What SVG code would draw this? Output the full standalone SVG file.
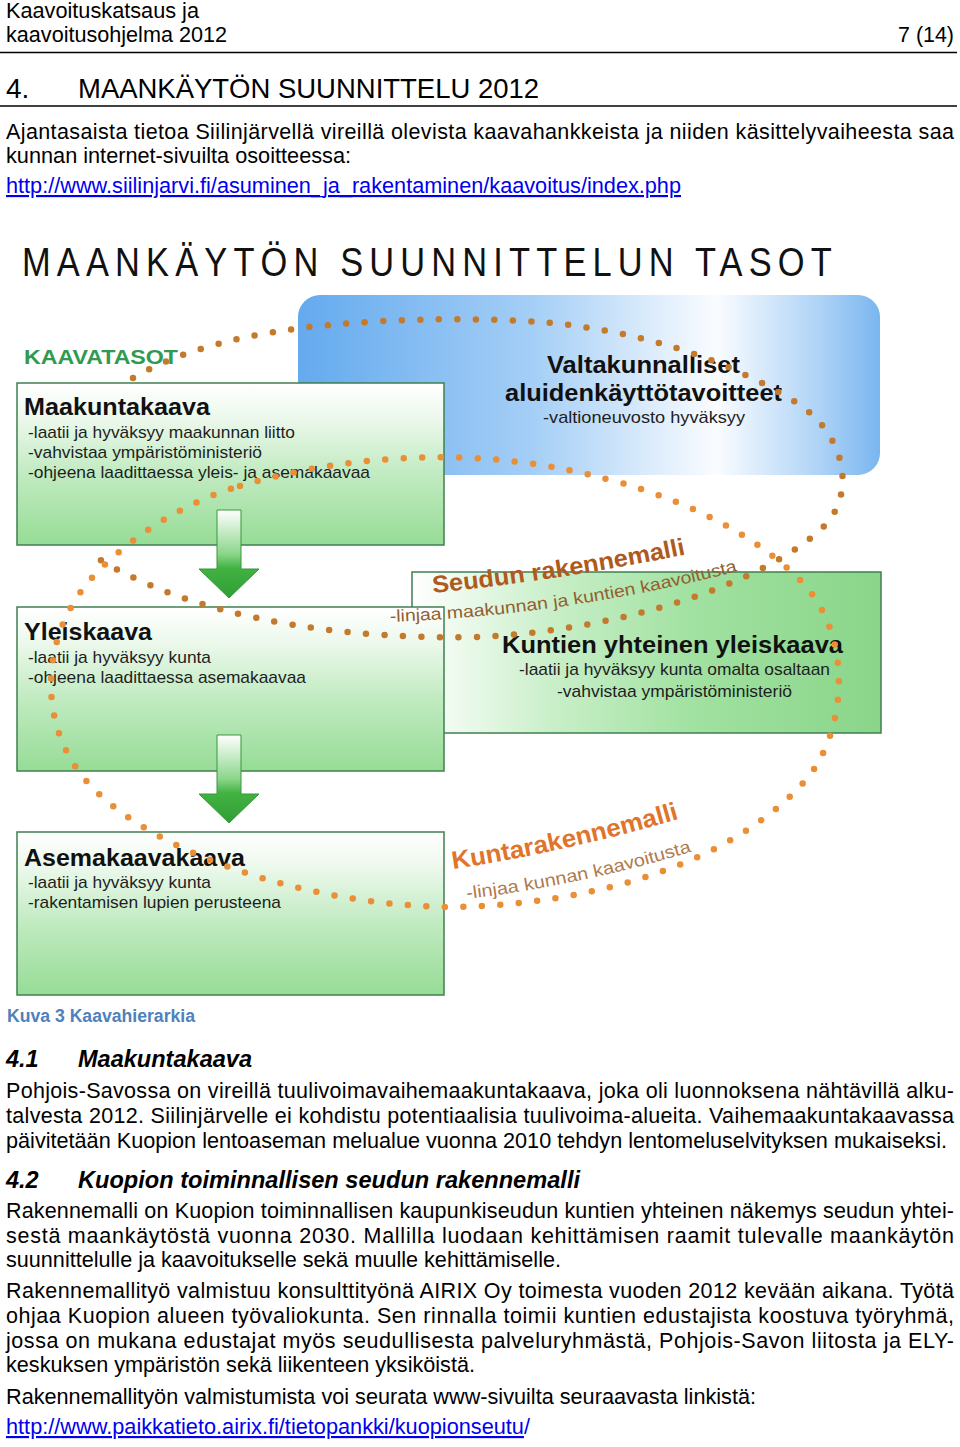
<svg xmlns="http://www.w3.org/2000/svg" width="960" height="1447" viewBox="0 0 960 1447">
<defs>
<style>
text{font-family:"Liberation Sans",Arial,Helvetica,sans-serif}
.b{font-size:21.5px;fill:#000}
.h{font-size:23.5px;font-weight:bold;font-style:italic;fill:#000}
.lnk{font-size:21.5px;fill:#0000ee}
.bt{font-weight:bold;fill:#111}
.st{font-size:17px;fill:#1e1e1e}
.box{stroke:#3f7f4f;stroke-width:1.5}
.rule{stroke:#000;stroke-width:1.5}
.dots1{fill:none;stroke:#c47a2c;stroke-width:6.5;stroke-linecap:round;stroke-dasharray:0 18.5}
.dots2{fill:none;stroke:#ea8f36;stroke-width:6.5;stroke-linecap:round;stroke-dasharray:0 18.5}
.arrow{fill:url(#gArrow);stroke:#3a963e;stroke-width:1}
</style>
<linearGradient id="gGreenV" x1="0" y1="0" x2="0" y2="1">
<stop offset="0" stop-color="#ffffff"/>
<stop offset="0.2" stop-color="#eef9ee"/>
<stop offset="0.55" stop-color="#c2ebc2"/>
<stop offset="1" stop-color="#96dc96"/>
</linearGradient>
<linearGradient id="gGreenH" x1="0" y1="0" x2="1" y2="0">
<stop offset="0" stop-color="#ffffff"/>
<stop offset="0.3" stop-color="#c9efc9"/>
<stop offset="0.6" stop-color="#a1e1a1"/>
<stop offset="1" stop-color="#8ad58a"/>
</linearGradient>
<linearGradient id="gBlue" x1="0" y1="0" x2="1" y2="0">
<stop offset="0" stop-color="#64aaee"/>
<stop offset="0.4" stop-color="#a4cef6"/>
<stop offset="0.72" stop-color="#fafcff"/>
<stop offset="0.9" stop-color="#acd2f6"/>
<stop offset="1" stop-color="#7ab6ef"/>
</linearGradient>
<linearGradient id="gArrow" x1="0" y1="0" x2="0" y2="1">
<stop offset="0" stop-color="#ffffff"/>
<stop offset="0.5" stop-color="#8ad68a"/>
<stop offset="0.66" stop-color="#42b242"/>
<stop offset="1" stop-color="#2f9f35"/>
</linearGradient>
<path id="pSeudun" d="M433,593 Q562,580 692,553"/>
<path id="pSeudunSub" d="M390,622 Q570,615 742,570"/>
<path id="pKunta" d="M453,869 Q566,852 682,818"/>
<path id="pKuntaSub" d="M467,899 Q582,885 694,851"/>
</defs>

<rect width="960" height="1447" fill="#ffffff"/>

<g id="page-header">
<text class="b" x="6" y="18" textLength="193" lengthAdjust="spacingAndGlyphs">Kaavoituskatsaus ja</text>
<text class="b" x="6" y="42" textLength="221" lengthAdjust="spacingAndGlyphs">kaavoitusohjelma 2012</text>
<text class="b" x="898" y="42" textLength="56" lengthAdjust="spacingAndGlyphs">7 (14)</text>
<line class="rule" x1="0" y1="52.5" x2="957" y2="52.5"/>
</g>

<g id="chapter-heading">
<text x="6" y="98" font-size="28" fill="#000">4.</text>
<text x="78" y="98" font-size="28" fill="#000" textLength="461" lengthAdjust="spacingAndGlyphs">MAANKÄYTÖN SUUNNITTELU 2012</text>
<line class="rule" x1="0" y1="106" x2="957" y2="106"/>
</g>

<g id="intro">
<text class="b" x="6" y="139" textLength="948" lengthAdjust="spacing">Ajantasaista tietoa Siilinjärvellä vireillä olevista kaavahankkeista ja niiden käsittelyvaiheesta saa</text>
<text class="b" x="6" y="163" textLength="345" lengthAdjust="spacingAndGlyphs">kunnan internet-sivuilta osoitteessa:</text>
<text class="lnk" x="6" y="193" textLength="675" lengthAdjust="spacingAndGlyphs" text-decoration="underline">http://www.siilinjarvi.fi/asuminen_ja_rakentaminen/kaavoitus/index.php</text>
</g>

<g id="diagram-title">
<text transform="scale(0.84,1)" x="26.19" y="276" font-size="41" fill="#111" textLength="964" lengthAdjust="spacing">MAANKÄYTÖN SUUNNITTELUN TASOT</text>
</g>

<g id="node-valtakunnalliset">
<rect x="298" y="295" width="582" height="180" rx="22" ry="22" fill="url(#gBlue)"/>
<text class="bt" x="547" y="373" font-size="23" textLength="193" lengthAdjust="spacingAndGlyphs">Valtakunnalliset</text>
<text class="bt" x="505" y="401" font-size="23" textLength="277" lengthAdjust="spacingAndGlyphs">aluidenkäyttötavoitteet</text>
<text class="st" x="543" y="423" textLength="202" lengthAdjust="spacingAndGlyphs">-valtioneuvosto hyväksyy</text>
</g>

<g id="node-kuntien-yleiskaava">
<rect class="box" x="412" y="572" width="469" height="161" fill="url(#gGreenH)"/>
<text class="bt" x="502" y="653" font-size="23" textLength="341" lengthAdjust="spacingAndGlyphs">Kuntien yhteinen yleiskaava</text>
<text class="st" x="519" y="675" textLength="311" lengthAdjust="spacingAndGlyphs">-laatii ja hyväksyy kunta omalta osaltaan</text>
<text class="st" x="557" y="697" textLength="235" lengthAdjust="spacingAndGlyphs">-vahvistaa ympäristöministeriö</text>
</g>

<g id="label-kaavatasot">
<text x="24" y="364" font-size="20" font-weight="bold" fill="#2f9a50" textLength="154" lengthAdjust="spacingAndGlyphs">KAAVATASOT</text>
</g>

<g id="node-maakuntakaava">
<rect class="box" x="17" y="383" width="427" height="162" fill="url(#gGreenV)"/>
<text class="bt" x="24" y="415" font-size="24" textLength="186" lengthAdjust="spacingAndGlyphs">Maakuntakaava</text>
<text class="st" x="28" y="438" textLength="267" lengthAdjust="spacingAndGlyphs">-laatii ja hyväksyy maakunnan liitto</text>
<text class="st" x="28" y="458" textLength="234" lengthAdjust="spacingAndGlyphs">-vahvistaa ympäristöministeriö</text>
<text class="st" x="28" y="478" textLength="342" lengthAdjust="spacingAndGlyphs">-ohjeena laadittaessa yleis- ja asemakaavaa</text>
</g>

<g id="node-yleiskaava">
<rect class="box" x="17" y="607" width="427" height="164" fill="url(#gGreenV)"/>
<text class="bt" x="24" y="640" font-size="24" textLength="128" lengthAdjust="spacingAndGlyphs">Yleiskaava</text>
<text class="st" x="28" y="663" textLength="183" lengthAdjust="spacingAndGlyphs">-laatii ja hyväksyy kunta</text>
<text class="st" x="28" y="683" textLength="278" lengthAdjust="spacingAndGlyphs">-ohjeena laadittaessa asemakaavaa</text>
</g>

<g id="node-asemakaava">
<rect class="box" x="17" y="832" width="427" height="163" fill="url(#gGreenV)"/>
<text class="bt" x="24" y="866" font-size="24" textLength="221" lengthAdjust="spacingAndGlyphs">Asemakaavakaava</text>
<text class="st" x="28" y="888" textLength="183" lengthAdjust="spacingAndGlyphs">-laatii ja hyväksyy kunta</text>
<text class="st" x="28" y="908" textLength="253" lengthAdjust="spacingAndGlyphs">-rakentamisen lupien perusteena</text>
</g>

<g id="label-seudun-rakennemalli">
<text font-size="24" font-weight="bold" fill="#b0591d"><textPath href="#pSeudun" textLength="256" lengthAdjust="spacingAndGlyphs">Seudun rakennemalli</textPath></text>
<text font-size="17" fill="#93602f"><textPath href="#pSeudunSub" textLength="352" lengthAdjust="spacingAndGlyphs">-linjaa maakunnan ja kuntien kaavoitusta</textPath></text>
</g>

<g id="label-kuntarakennemalli">
<text font-size="25" font-weight="bold" fill="#e0742a"><textPath href="#pKunta" textLength="232" lengthAdjust="spacingAndGlyphs">Kuntarakennemalli</textPath></text>
<text font-size="17.5" fill="#b07a4c"><textPath href="#pKuntaSub" textLength="230" lengthAdjust="spacingAndGlyphs">-linjaa kunnan kaavoitusta</textPath></text>
</g>

<g id="connectors">
<path class="arrow" d="M217,510 H241 V569 H259 L229,598 L199,569 H217 Z"/>
<path class="arrow" d="M217,735 H241 V794 H259 L229,823 L199,794 H217 Z"/>
<path class="dots1" d="M133,378 C180,350 250,332 330,325 C400,318 480,318 540,322 C640,330 730,360 800,405 C850,440 855,500 820,530 C760,585 620,630 480,637 C350,640 230,620 150,585 C115,570 95,558 87,549"/>
<path class="dots2" d="M240,486 C320,462 420,450 520,462 C640,478 740,520 800,580 C850,630 850,720 810,775 C740,860 600,905 450,907 C300,905 150,850 90,785 C38,730 38,640 90,580 C130,535 190,500 240,486 Z"/>
</g>

<g id="caption">
<text x="7" y="1022" font-size="17.5" font-weight="bold" fill="#4f81bd" textLength="188" lengthAdjust="spacingAndGlyphs">Kuva 3 Kaavahierarkia</text>
</g>

<g id="section-4-1">
<text class="h" x="6" y="1067">4.1</text>
<text class="h" x="78" y="1067" textLength="174" lengthAdjust="spacingAndGlyphs">Maakuntakaava</text>
<text class="b" x="6" y="1098" textLength="948" lengthAdjust="spacing">Pohjois-Savossa on vireillä tuulivoimavaihemaakuntakaava, joka oli luonnoksena nähtävillä alku-</text>
<text class="b" x="6" y="1123" textLength="948" lengthAdjust="spacing">talvesta 2012. Siilinjärvelle ei kohdistu potentiaalisia tuulivoima-alueita. Vaihemaakuntakaavassa</text>
<text class="b" x="6" y="1148" textLength="941" lengthAdjust="spacingAndGlyphs">päivitetään Kuopion lentoaseman melualue vuonna 2010 tehdyn lentomeluselvityksen mukaiseksi.</text>
</g>

<g id="section-4-2">
<text class="h" x="6" y="1188">4.2</text>
<text class="h" x="78" y="1188" textLength="502" lengthAdjust="spacingAndGlyphs">Kuopion toiminnallisen seudun rakennemalli</text>
<text class="b" x="6" y="1218" textLength="948" lengthAdjust="spacing">Rakennemalli on Kuopion toiminnallisen kaupunkiseudun kuntien yhteinen näkemys seudun yhtei-</text>
<text class="b" x="6" y="1243" textLength="948" lengthAdjust="spacing">sestä maankäytöstä vuonna 2030. Mallilla luodaan kehittämisen raamit tulevalle maankäytön</text>
<text class="b" x="6" y="1267" textLength="555" lengthAdjust="spacingAndGlyphs">suunnittelulle ja kaavoitukselle sekä muulle kehittämiselle.</text>
<text class="b" x="6" y="1298" textLength="948" lengthAdjust="spacing">Rakennemallityö valmistuu konsulttityönä AIRIX Oy toimesta vuoden 2012 kevään aikana. Työtä</text>
<text class="b" x="6" y="1323" textLength="948" lengthAdjust="spacing">ohjaa Kuopion alueen työvaliokunta. Sen rinnalla toimii kuntien edustajista koostuva työryhmä,</text>
<text class="b" x="6" y="1348" textLength="948" lengthAdjust="spacing">jossa on mukana edustajat myös seudullisesta palveluryhmästä, Pohjois-Savon liitosta ja ELY-</text>
<text class="b" x="6" y="1372" textLength="469" lengthAdjust="spacingAndGlyphs">keskuksen ympäristön sekä liikenteen yksiköistä.</text>
<text class="b" x="6" y="1404" textLength="750" lengthAdjust="spacingAndGlyphs">Rakennemallityön valmistumista voi seurata www-sivuilta seuraavasta linkistä:</text>
<text class="lnk" x="6" y="1434" textLength="524" lengthAdjust="spacingAndGlyphs"><tspan text-decoration="underline">http://www.paikkatieto.airix.fi/tietopankki/kuopionseutu</tspan>/</text>
</g>
</svg>
